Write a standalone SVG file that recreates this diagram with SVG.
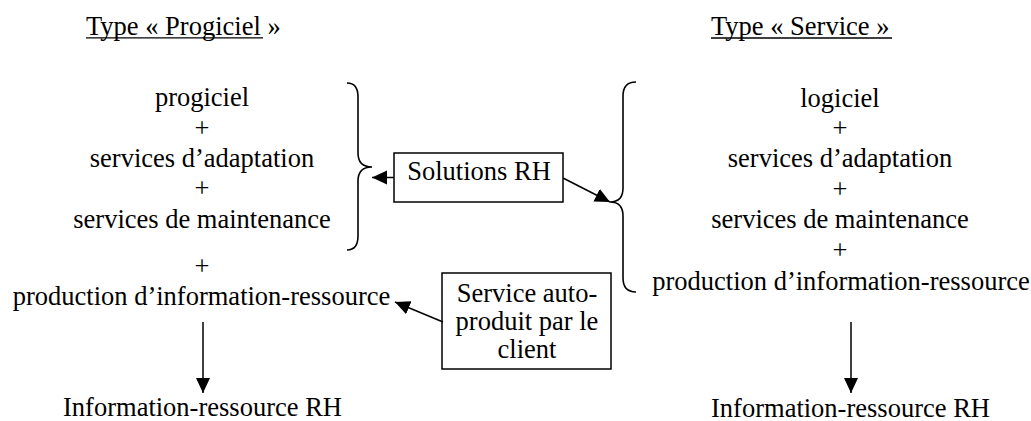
<svg xmlns="http://www.w3.org/2000/svg" width="1031" height="421" viewBox="0 0 1031 421">
<style>
.t{font-family:'Liberation Serif','Times New Roman',serif;font-size:26.5px;fill:#000}
.c{text-anchor:middle}
.ln{stroke:#000;stroke-width:1.5;fill:none}
.br{stroke:#000;stroke-width:1.6;fill:none}
.bx{stroke:#000;stroke-width:1.5;fill:#fff}
</style>
<defs>
<marker id="ah" markerUnits="userSpaceOnUse" markerWidth="16" markerHeight="15" refX="15" refY="7" orient="auto">
<path d="M0,0 L15,7 L0,14 z" fill="#000"/>
</marker>
</defs>
<rect width="1031" height="421" fill="#fff"/>
<g id="title-left" class="t" font-family="Liberation Serif, serif">
<text x="86" y="34.5">Type « Progiciel »</text>
<line x1="86" y1="37.8" x2="263" y2="37.8" stroke="#000" stroke-width="1.3"/>
</g>
<g id="title-right" class="t" font-family="Liberation Serif, serif">
<text x="711" y="34.5">Type « Service »</text>
<line x1="711" y1="38" x2="892" y2="38" stroke="#000" stroke-width="1.3"/>
</g>
<g id="left-stack" class="t c" font-family="Liberation Serif, serif">
<text x="202" y="106">progiciel</text>
<text x="202" y="137">+</text>
<text x="202" y="167">services d’adaptation</text>
<text x="202" y="197">+</text>
<text x="202" y="228">services de maintenance</text>
<text x="202" y="275">+</text>
<text x="201.5" y="305">production d’information-ressource</text>
</g>
<g id="left-result" class="t c" font-family="Liberation Serif, serif">
<text x="202.5" y="416">Information-ressource RH</text>
</g>
<g id="right-stack" class="t c" font-family="Liberation Serif, serif">
<text x="840" y="107">logiciel</text>
<text x="840" y="137">+</text>
<text x="840" y="167">services d’adaptation</text>
<text x="840" y="198">+</text>
<text x="840" y="228">services de maintenance</text>
<text x="840" y="259">+</text>
<text x="841" y="290">production d’information-ressource</text>
</g>
<g id="right-result" class="t c" font-family="Liberation Serif, serif">
<text x="850.5" y="416.5">Information-ressource RH</text>
</g>
<g id="brace-left">
<path class="br" d="M347,83 Q358,83 358,97 L358,153 Q358,167 372,167 Q358,167 358,181 L358,236 Q358,250 347,250"/>
</g>
<g id="brace-right">
<path class="br" d="M636,82 Q623,82 623,96 L623,188 Q623,202 610,202 Q623,202 623,216 L623,278 Q623,292 636,292"/>
</g>
<g id="solutions-rh" class="t c" font-family="Liberation Serif, serif">
<rect class="bx" x="394" y="153" width="169" height="49"/>
<text x="479" y="180">Solutions RH</text>
</g>
<g id="service-auto" class="t c" font-family="Liberation Serif, serif">
<rect class="bx" x="442" y="273" width="169" height="96"/>
<text x="527" y="302">Service auto-</text>
<text x="527" y="330">produit par le</text>
<text x="527" y="358">client</text>
</g>
<g id="connectors">
<line class="ln" x1="394" y1="177.5" x2="372" y2="177.5" marker-end="url(#ah)"/>
<line class="ln" x1="563" y1="178" x2="610" y2="202" marker-end="url(#ah)"/>
<line class="ln" x1="443" y1="322" x2="395" y2="302" marker-end="url(#ah)"/>
<line class="ln" x1="203" y1="322" x2="203" y2="393" marker-end="url(#ah)"/>
<line class="ln" x1="851" y1="322" x2="851" y2="393" marker-end="url(#ah)"/>
</g>
</svg>
